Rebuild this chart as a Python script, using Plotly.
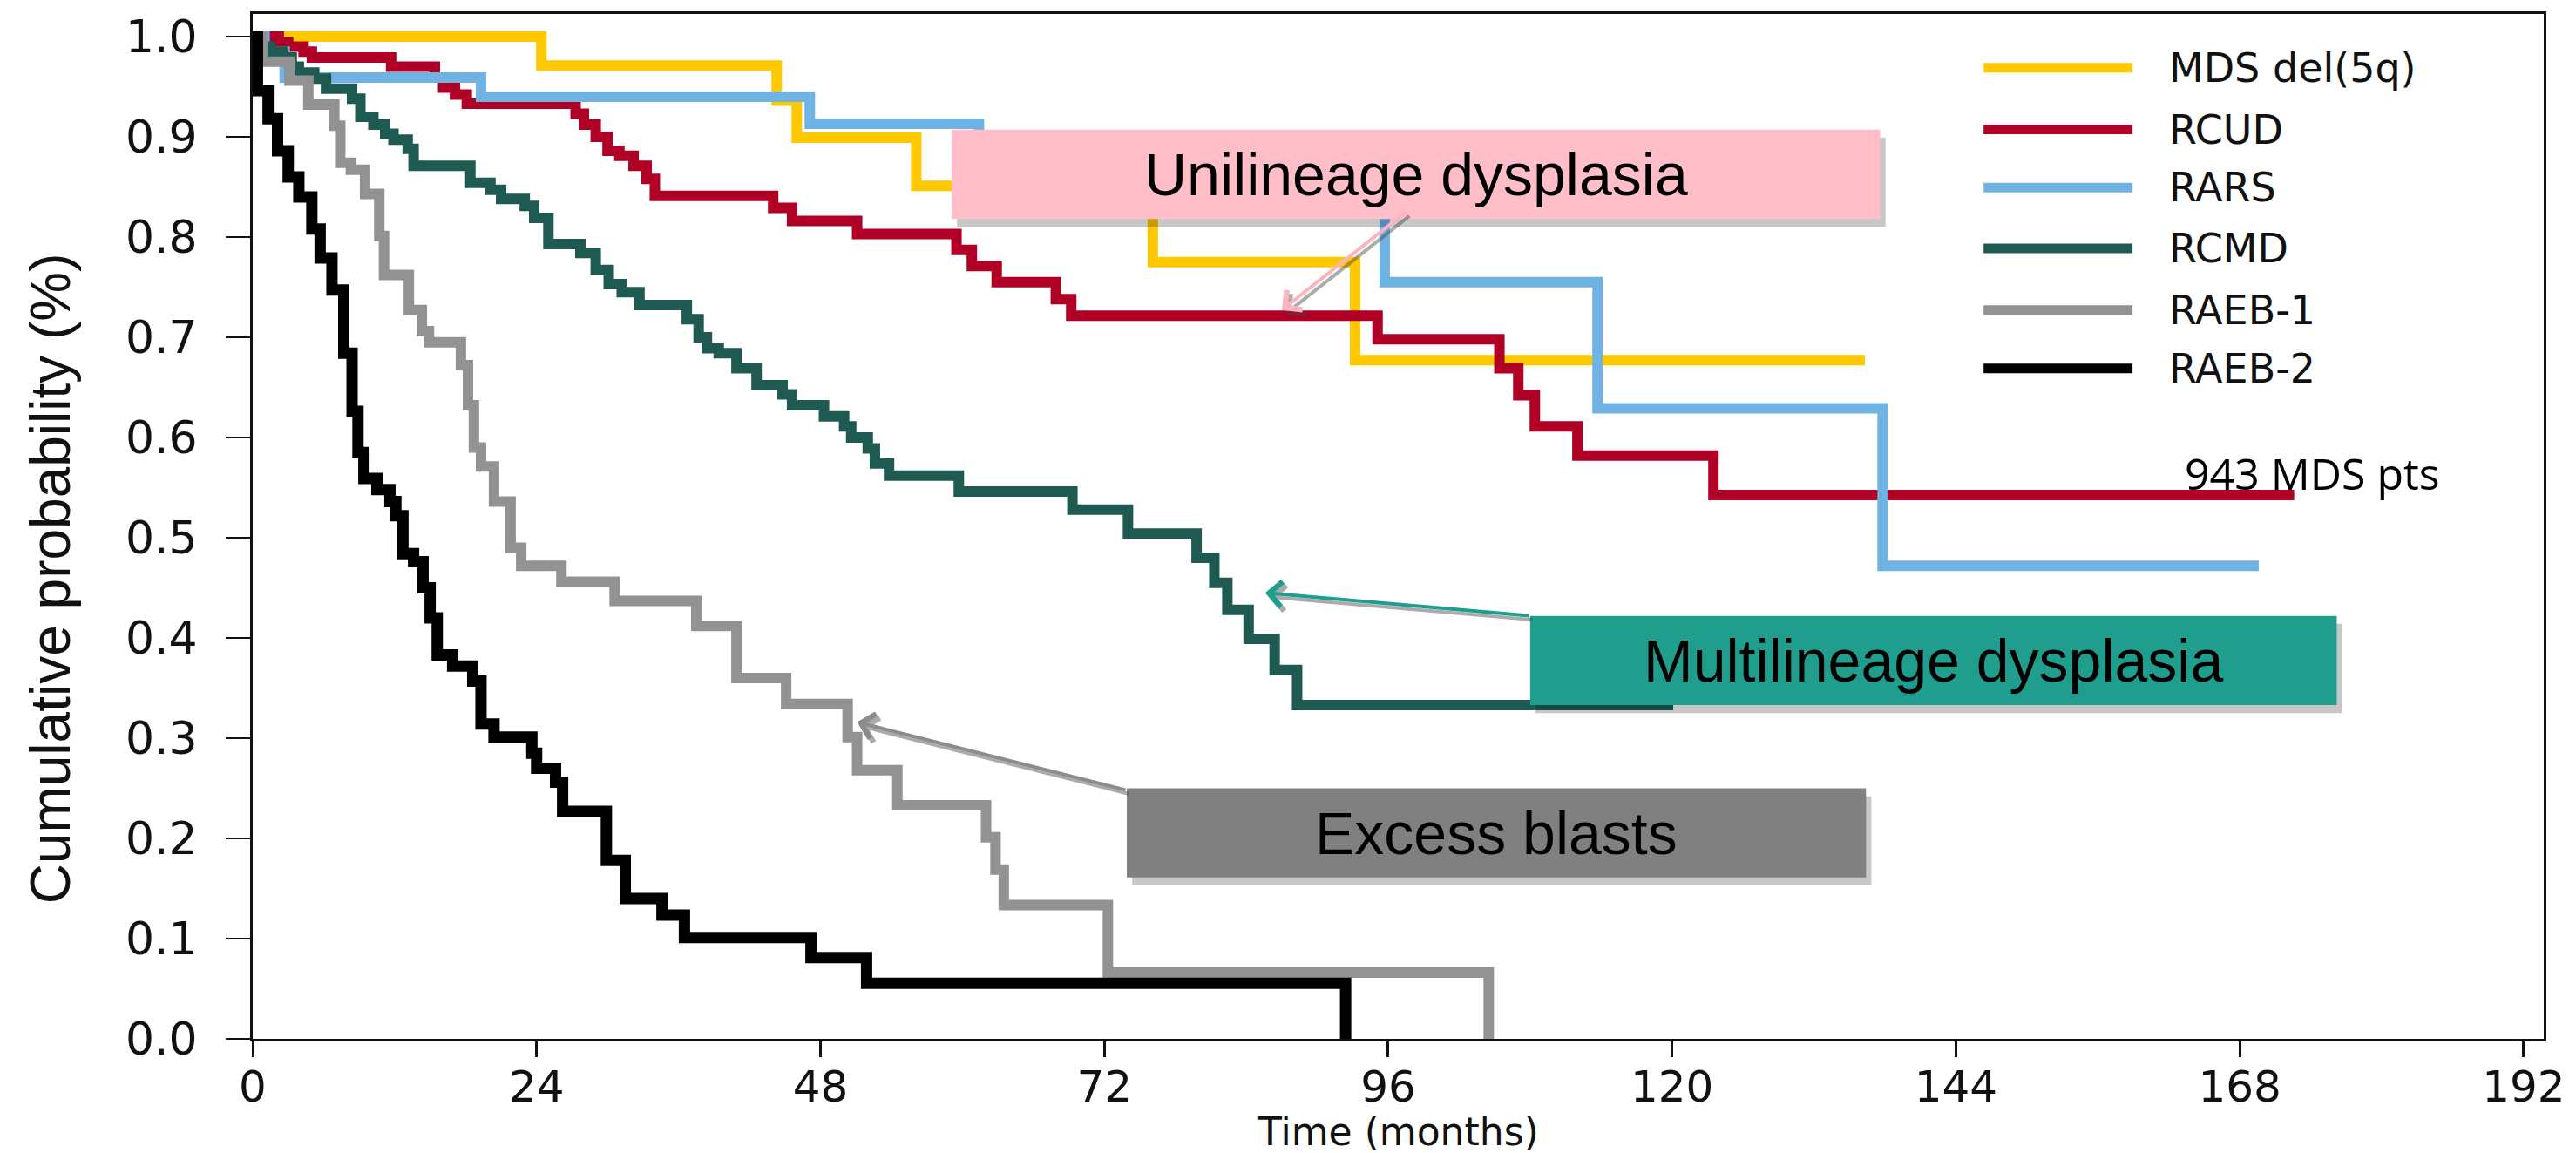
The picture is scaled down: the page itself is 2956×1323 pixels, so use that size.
import plotly.graph_objects as go

# ---------------- data ----------------
series_names = ["MDS del(5q)", "RCUD", "RARS", "RCMD", "RAEB-1", "RAEB-2"]
series_colors = ["#FFC800", "#B00026", "#6FB3E4", "#1F5A52", "#929292", "#000000"]

del5q_t = [0, 24.4, 44.3, 46.0, 56.1, 76.1, 93.2, 136.3]
del5q_s = [1.0, 0.971, 0.936, 0.899, 0.851, 0.775, 0.677, 0.677]

rcud_t = [0, 2.2, 3.0, 4.3, 5.0, 11.7, 15.4, 16.1, 17.1, 18.1, 27.3, 28.0, 29.0, 30.0,
          31.0, 32.2, 33.3, 34.0, 44.0, 45.6, 51.1, 59.5, 60.8, 62.9, 67.9, 69.2, 95.1,
          105.4, 107.0, 108.4, 112.0, 123.5, 172.6]
rcud_s = [1.0, 0.994, 0.99, 0.985, 0.979, 0.97, 0.959, 0.949, 0.942, 0.933, 0.923, 0.912,
          0.9, 0.886, 0.881, 0.871, 0.858, 0.841, 0.829, 0.816, 0.803, 0.787, 0.771, 0.755,
          0.738, 0.7215, 0.698, 0.669, 0.642, 0.611, 0.582, 0.5425, 0.5425]

rars_t = [0, 1.0, 2.7, 19.3, 47.1, 61.4, 95.7, 113.7, 137.8, 169.6]
rars_s = [1.0, 0.985, 0.959, 0.94, 0.913, 0.875, 0.755, 0.629, 0.472, 0.472]

rcmd_t = [0, 0.6, 1.5, 2.5, 3.3, 3.9, 5.2, 6.2, 8.4, 9.1, 10.2, 11.2, 11.9, 13.1, 13.6,
          18.4, 20.1, 21.0, 23.0, 23.8, 25.0, 27.7, 29.0, 30.1, 31.2, 32.7, 36.7, 37.7,
          38.4, 39.4, 40.9, 42.6, 44.8, 45.6, 48.3, 50.0, 50.6, 52.0, 52.6, 53.8, 59.7,
          69.3, 74.0, 79.8, 81.3, 82.4, 84.2, 86.4, 88.3, 120.1]
rcmd_s = [1.0, 0.99, 0.985, 0.979, 0.97, 0.964, 0.958, 0.948, 0.938, 0.92, 0.912, 0.903,
          0.897, 0.888, 0.871, 0.854, 0.847, 0.838, 0.831, 0.819, 0.793, 0.784, 0.767,
          0.753, 0.745, 0.732, 0.718, 0.70, 0.689, 0.684, 0.669, 0.652, 0.643, 0.632,
          0.621, 0.611, 0.60, 0.589, 0.574, 0.562, 0.546, 0.528, 0.504, 0.48, 0.455,
          0.428, 0.399, 0.368, 0.333, 0.333]

raeb1_t = [0, 0.8, 3.1, 4.7, 6.9, 7.4, 8.3, 9.5, 10.7, 11.1, 13.2, 14.3, 14.9, 17.6, 18.2,
           18.7, 19.3, 20.4, 21.8, 22.7, 26.1, 30.6, 37.5, 40.9, 45.1, 50.3, 51.1, 54.5,
           62.0, 62.8, 63.5, 72.3, 104.5]
raeb1_s = [1.0, 0.975, 0.956, 0.932, 0.911, 0.874, 0.867, 0.843, 0.801, 0.762, 0.727,
           0.706, 0.695, 0.672, 0.632, 0.59, 0.571, 0.536, 0.49, 0.472, 0.456, 0.437,
           0.412, 0.36, 0.334, 0.301, 0.268, 0.233, 0.201, 0.169, 0.1335, 0.066, 0.0]

raeb2_t = [0, 0.4, 1.3, 2.1, 3.0, 3.9, 5.0, 5.7, 6.7, 7.7, 8.4, 8.9, 9.4, 10.5, 11.6, 12.1,
           12.7, 13.6, 14.4, 15.0, 15.6, 16.9, 18.6, 19.3, 20.4, 23.6, 24.0, 25.6, 26.2,
           29.9, 31.5, 34.6, 36.5, 47.2, 51.9, 92.4]
raeb2_s = [1.0, 0.946, 0.918, 0.886, 0.86, 0.84, 0.808, 0.779, 0.747, 0.684, 0.626, 0.585,
           0.559, 0.548, 0.536, 0.522, 0.484, 0.476, 0.45, 0.42, 0.383, 0.372, 0.357,
           0.314, 0.301, 0.285, 0.27, 0.256, 0.227, 0.178, 0.14, 0.1235, 0.101, 0.081,
           0.0555, 0.0]

x_ticks = [0, 24, 48, 72, 96, 120, 144, 168, 192]
y_ticks = [0.0, 0.1, 0.2, 0.3, 0.4, 0.5, 0.6, 0.7, 0.8, 0.9, 1.0]
y_tick_labels = ["0.0", "0.1", "0.2", "0.3", "0.4", "0.5", "0.6", "0.7", "0.8", "0.9", "1.0"]

x_title = "Time (months)"
y_title = "Cumulative probability (%)"
note_text = "943 MDS pts"

# callout boxes: label, fill, x0, x1, y0, y1 (data units), arrow head (x, y), arrow tail (x, y), arrow colour
callouts = [
    ("Unilineage dysplasia", "#FFBEC8", 59.1, 137.6, 0.818, 0.907, (87.0, 0.727), (97.6, 0.826), "#FFB3BF"),
    ("Multilineage dysplasia", "#1F9E8E", 108.0, 176.2, 0.333, 0.422, (85.6, 0.445), (108.0, 0.422), "#1F9E8E"),
    ("Excess blasts", "#808080", 73.9, 136.4, 0.161, 0.250, (51.1, 0.316), (73.9, 0.248), "#8C8C8C"),
]

# ---------------- figure ----------------
times = [del5q_t, rcud_t, rars_t, rcmd_t, raeb1_t, raeb2_t]
survs = [del5q_s, rcud_s, rars_s, rcmd_s, raeb1_s, raeb2_s]
widths = [12, 12, 12, 12, 12, 13]

fig = go.Figure()
for name, col, t, s, w in zip(series_names, series_colors, times, survs, widths):
    fig.add_trace(go.Scatter(x=t, y=s, mode="lines", name=name,
                             line=dict(color=col, width=w, shape="hv"),
                             showlegend=False, hoverinfo="skip"))

shapes = []
annotations = []

# callout boxes with soft shadow
for label, fill, x0, x1, y0, y1, head, tail, acol in callouts:
    shapes.append(dict(type="rect", xref="x", yref="y", x0=x0 + 0.45, x1=x1 + 0.45,
                       y0=y0 - 0.008, y1=y1 - 0.008, fillcolor="rgba(0,0,0,0.22)",
                       line=dict(width=0), layer="above"))
    shapes.append(dict(type="rect", xref="x", yref="y", x0=x0, x1=x1, y0=y0, y1=y1,
                       fillcolor=fill, line=dict(width=0), layer="above"))
    annotations.append(dict(x=(x0 + x1) / 2, y=(y0 + y1) / 2, xref="x", yref="y",
                            text=label, showarrow=False, xanchor="center", yanchor="middle",
                            font=dict(family="Liberation Sans, Arial", size=68, color="#000000")))
    # arrow shadow
    annotations.append(dict(x=head[0] + 0.3, y=head[1] - 0.004, ax=tail[0] + 0.3, ay=tail[1] - 0.004,
                            xref="x", yref="y", axref="x", ayref="y", text="",
                            showarrow=True, arrowhead=4, arrowsize=1.4, arrowwidth=4,
                            arrowcolor="rgba(70,70,70,0.45)", standoff=0, startstandoff=0))
    annotations.append(dict(x=head[0], y=head[1], ax=tail[0], ay=tail[1],
                            xref="x", yref="y", axref="x", ayref="y", text="",
                            showarrow=True, arrowhead=4, arrowsize=1.4, arrowwidth=4,
                            arrowcolor=acol, standoff=0, startstandoff=0))

# custom legend (long line samples as in the reference)
legend_rows = [0.9475, 0.8873, 0.8305, 0.7712, 0.7110, 0.6542]
for name, col, yr in zip(series_names, series_colors, legend_rows):
    shapes.append(dict(type="line", xref="paper", yref="paper", x0=0.7555, x1=0.8205,
                       y0=yr, y1=yr, line=dict(color=col, width=11)))
    annotations.append(dict(x=0.8356, y=yr, xref="paper", yref="paper", text=name,
                            showarrow=False, xanchor="left", yanchor="middle",
                            font=dict(family="DejaVu Sans", size=46, color="#111111")))

# note text
annotations.append(dict(x=163.2, y=0.564, xref="x", yref="y", text=note_text,
                        showarrow=False, xanchor="left", yanchor="middle",
                        font=dict(family="Open Sans", size=50, color="#000000")))

# axis titles
annotations.append(dict(x=0.5, y=-0.0907, xref="paper", yref="paper", text=x_title,
                        showarrow=False, xanchor="center", yanchor="middle",
                        font=dict(family="DejaVu Sans", size=44, color="#111111")))
annotations.append(dict(x=-0.0881, y=0.449, xref="paper", yref="paper", text=y_title,
                        showarrow=False, xanchor="center", yanchor="middle", textangle=-90,
                        font=dict(family="Liberation Sans, Arial", size=64, color="#111111")))

fig.update_layout(
    width=2956, height=1323,
    margin=dict(l=290, r=32, t=12, b=131),
    paper_bgcolor="white", plot_bgcolor="white",
    shapes=shapes, annotations=annotations,
    showlegend=False,
    xaxis=dict(range=[0, 193.7], tickvals=x_ticks, ticks="outside", ticklen=18,
               tickwidth=3, tickcolor="#111111", showline=True, linecolor="#111111",
               linewidth=3, mirror=True, showgrid=False, zeroline=False,
               ticklabelstandoff=-9,
               tickfont=dict(family="DejaVu Sans", size=50, color="#111111")),
    yaxis=dict(range=[0, 1.0225], tickvals=y_ticks, ticktext=y_tick_labels, ticks="outside",
               ticklen=28, tickwidth=2, tickcolor="#111111", showline=True,
               linecolor="#111111", linewidth=3, mirror=True, showgrid=False,
               zeroline=False, ticklabelstandoff=22,
               tickfont=dict(family="DejaVu Sans", size=52, color="#111111")),
)

fig.write_html("out.html")
